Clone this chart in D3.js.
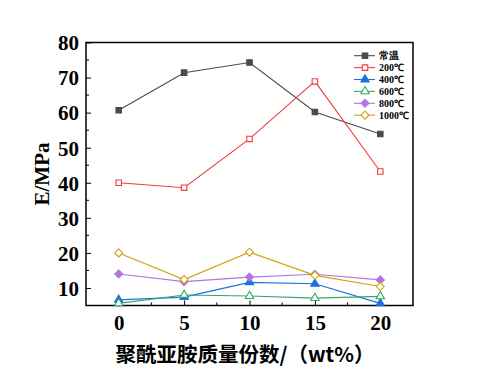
<!DOCTYPE html>
<html>
<head>
<meta charset="utf-8">
<script src="https://cdn.jsdelivr.net/npm/d3@7"></script>
<style>
  body { margin: 0; background: #fff; }
  svg { display: block; }
</style>
</head>
<body>
<script>
let width = 482, height = 369;
let margin = {left: 86, right: 69, top: 42.5, bottom: 63.5};

// data
const xValues = [0, 5, 10, 15, 20];
const seriesNames = ["常温", "200℃", "400℃", "600℃", "800℃", "1000℃"];
const roomTemp = [60.7, 71.4, 74.3, 60.2, 53.9];
const t200 = [40.0, 38.6, 52.5, 68.9, 43.2];
const t400 = [6.6, 7.4, 11.6, 11.2, 5.6];
const t600 = [5.6, 8.0, 7.7, 7.1, 7.6];
const t800 = [14.0, 11.8, 13.1, 13.9, 12.3];
const t1000 = [20.0, 12.4, 20.2, 13.6, 10.4];
const xTicks = [0, 5, 10, 15, 20];
const yTicks = [10, 20, 30, 40, 50, 60, 70, 80];

const colors = ["#4a4a4a", "#f23c3c", "#1f6fdd", "#2fa86a", "#b077e0", "#d4a20a"];
const shapes = ["square", "square", "triangle", "triangle", "diamond", "diamond"];
const filled = [true, false, true, false, true, false];

const series = [roomTemp, t200, t400, t600, t800, t1000].map((vals, i) => ({
  name: seriesNames[i],
  values: vals.map((v, j) => ({x: xValues[j], y: v}))
}));

let x = d3.scaleLinear().domain([-2.5, 22.5]).range([margin.left, width - margin.right]);
let y = d3.scaleLinear().domain([5, 80]).range([height - margin.bottom, margin.top]);

const svg = d3.select("body").append("svg")
  .attr("width", width)
  .attr("height", height);

const serif = "'Times New Roman', 'Liberation Serif', serif";

// axes, ticks point inward
let xAxis = d3.axisBottom(x).tickValues(xTicks).tickSize(-5).tickPadding(10).tickFormat(d3.format("d"));
let yAxis = d3.axisLeft(y).tickValues(yTicks).tickSize(-5).tickPadding(7).tickFormat(d3.format("d"));

const gx = svg.append("g")
  .attr("transform", `translate(0,${height - margin.bottom})`)
  .call(xAxis);
const gy = svg.append("g")
  .attr("transform", `translate(${margin.left},0)`)
  .call(yAxis);

[gx, gy].forEach(g => {
  g.select(".domain").remove();
  g.selectAll("line").attr("stroke", "#000").attr("stroke-width", 1);
  g.selectAll("text")
    .style("font-family", serif)
    .style("font-weight", "bold")
    .style("font-size", "21px")
    .attr("fill", "#000");
});
gy.selectAll("text").attr("dy", "0.35em");

// minor ticks
svg.append("g").selectAll("line")
  .data([2.5, 7.5, 12.5, 17.5])
  .enter().append("line")
  .attr("x1", d => x(d)).attr("x2", d => x(d))
  .attr("y1", height - margin.bottom).attr("y2", height - margin.bottom - 3)
  .attr("stroke", "#000");
svg.append("g").selectAll("line")
  .data([15, 25, 35, 45, 55, 65, 75])
  .enter().append("line")
  .attr("y1", d => y(d)).attr("y2", d => y(d))
  .attr("x1", margin.left).attr("x2", margin.left + 3)
  .attr("stroke", "#000");

// frame
svg.append("rect")
  .attr("x", margin.left)
  .attr("y", margin.top)
  .attr("width", width - margin.left - margin.right)
  .attr("height", height - margin.top - margin.bottom)
  .attr("fill", "none")
  .attr("stroke", "#000")
  .attr("stroke-width", 1.5);

function symbolPath(shape) {
  if (shape === "square") return d3.symbol(d3.symbolSquare, 30)();
  if (shape === "triangle") return d3.symbol(d3.symbolTriangle, 30)();
  return "M0,-4L4,0L0,4L-4,0Z";
}

let line = d3.line().x(d => x(d.x)).y(d => y(d.y));

series.forEach((s, i) => {
  svg.append("path")
    .datum(s.values)
    .attr("d", line)
    .attr("fill", "none")
    .attr("stroke", colors[i])
    .attr("stroke-width", 1.1);

  svg.append("g").selectAll("path")
    .data(s.values)
    .enter().append("path")
    .attr("d", symbolPath(shapes[i]))
    .attr("transform", d => `translate(${x(d.x)},${y(d.y)})`)
    .attr("fill", filled[i] ? colors[i] : "#fff")
    .attr("stroke", colors[i])
    .attr("stroke-width", 1.1);
});

// legend
const legend = svg.append("g").selectAll("g")
  .data(series)
  .enter().append("g")
  .attr("transform", (d, i) => `translate(354,${55.7 + i * 11.9})`);

legend.append("line")
  .attr("x1", 0).attr("x2", 21)
  .attr("stroke", (d, i) => colors[i])
  .attr("stroke-width", 1.1);
legend.append("path")
  .attr("d", (d, i) => symbolPath(shapes[i]))
  .attr("transform", "translate(11,0)")
  .attr("fill", (d, i) => filled[i] ? colors[i] : "#fff")
  .attr("stroke", (d, i) => colors[i])
  .attr("stroke-width", 1.1);
legend.append("text")
  .attr("x", 25)
  .attr("dy", "0.35em")
  .style("font-family", serif)
  .style("font-weight", "bold")
  .style("font-size", "10px")
  .text(d => d.name);

// axis titles
svg.append("text")
  .attr("x", 245)
  .attr("y", 362)
  .style("text-anchor", "middle")
  .style("font-family", "'Noto Sans CJK SC', sans-serif")
  .style("font-weight", "bold")
  .style("font-size", "20.5px")
  .text("聚酰亚胺质量份数/（wt%）");

svg.append("text")
  .attr("transform", `translate(49,${(margin.top + height - margin.bottom) / 2}) rotate(-90)`)
  .style("text-anchor", "middle")
  .style("font-family", serif)
  .style("font-weight", "bold")
  .style("font-size", "21px")
  .text("E/MPa");
</script>
</body>
</html>
